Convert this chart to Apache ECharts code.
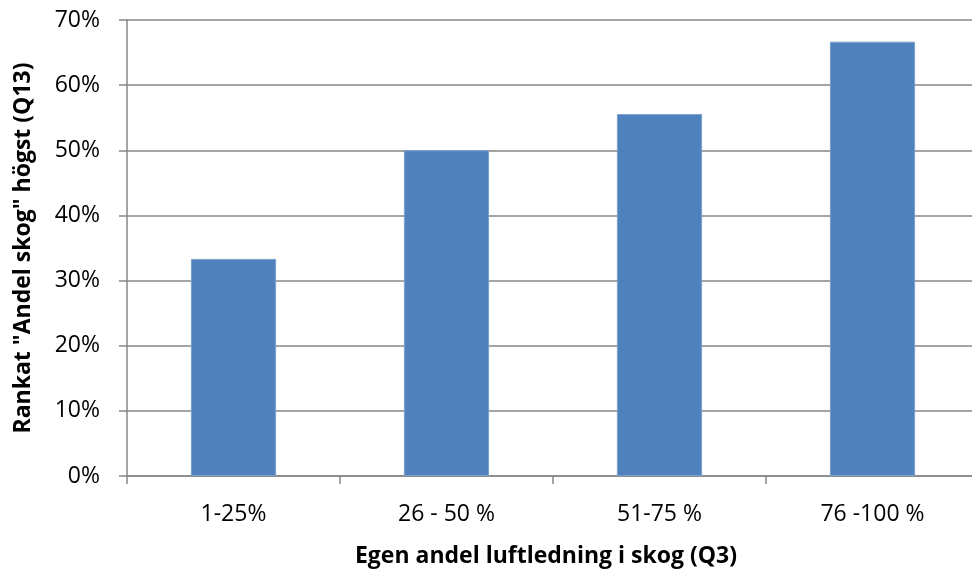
<!DOCTYPE html>
<html>
<head>
<meta charset="utf-8">
<script src="https://cdn.jsdelivr.net/npm/echarts@6/dist/echarts.min.js"></script>
<style>
  html, body { margin: 0; padding: 0; background: #fff; }
  #chart { width: 972px; height: 572px; }
</style>
</head>
<body>
<div id="chart"></div>
<script>
// Share ranking "Andel skog" highest, by own share of overhead line in forest
const categories = ['1-25%', '26 - 50 %', '51-75 %', '76 -100 %'];
const shares = [0.3333, 0.5, 0.5556, 0.6667];
const yTicks = [0, 0.1, 0.2, 0.3, 0.4, 0.5, 0.6, 0.7];

const FONT = '"Open Sans", "Liberation Sans", sans-serif';
const AXIS_GRAY = '#868686';

const chart = echarts.init(document.getElementById('chart'));
chart.setOption({
  animation: false,
  // plot area runs slightly past the right edge of the canvas
  grid: { left: 127, width: 852, top: 20, bottom: 96, outerBoundsMode: 'none' },
  xAxis: {
    type: 'category',
    data: categories,
    name: 'Egen andel luftledning i skog (Q3)',
    nameLocation: 'middle',
    nameGap: 69,
    nameTextStyle: { fontFamily: FONT, fontSize: 23, fontWeight: 'bold', color: '#000', padding: [0, 14, 0, 0] },
    axisLine: { lineStyle: { color: AXIS_GRAY, width: 1.5 } },
    axisTick: { show: true, length: 8, lineStyle: { color: AXIS_GRAY, width: 1.5 } },
    axisLabel: { fontFamily: FONT, fontSize: 23, color: '#000', margin: 27 }
  },
  yAxis: {
    type: 'value',
    min: yTicks[0],
    max: yTicks[yTicks.length - 1],
    interval: 0.1,
    name: 'Rankat "Andel skog" högst (Q13)',
    nameLocation: 'middle',
    nameGap: 92,
    nameTextStyle: { fontFamily: FONT, fontSize: 23, fontWeight: 'bold', color: '#000' },
    axisLine: { show: true, lineStyle: { color: AXIS_GRAY, width: 1.5 } },
    axisTick: { show: true, length: 8, lineStyle: { color: AXIS_GRAY, width: 1.5 } },
    splitLine: { lineStyle: { color: AXIS_GRAY, width: 1.5 } },
    axisLabel: {
      fontFamily: FONT, fontSize: 23, color: '#000', margin: 27,
      formatter: v => Math.round(v * 100) + '%'
    }
  },
  series: [{
    type: 'bar',
    data: shares,
    barWidth: '40%',
    itemStyle: { color: '#4F81BD', borderColor: '#7BA0CD', borderWidth: 1 }
  }]
});
</script>
</body>
</html>
